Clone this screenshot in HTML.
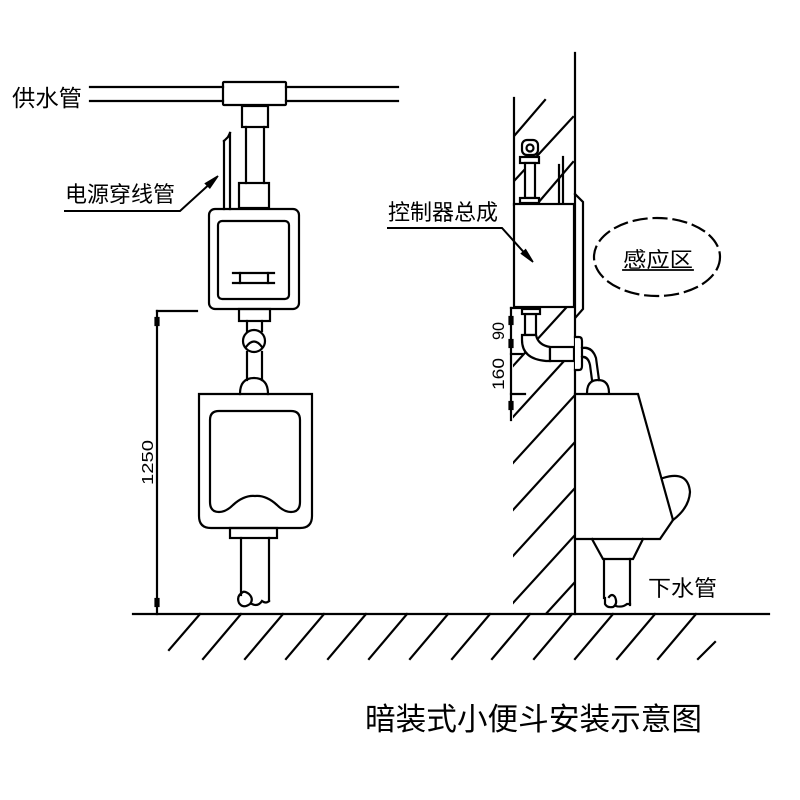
<!DOCTYPE html>
<html><head><meta charset="utf-8"><style>
html,body{margin:0;padding:0;background:#fff;}
svg{display:block;}
.t{font-family:"Liberation Sans","Noto Sans CJK SC",sans-serif;fill:#000;stroke:none;}
</style></head><body>
<svg width="800" height="800" viewBox="0 0 800 800" xmlns="http://www.w3.org/2000/svg">
<defs>
<clipPath id="lw"><rect x="513" y="308" width="62" height="306"/></clipPath>
</defs>
<g fill="none" stroke="#000" stroke-width="2.2" stroke-linecap="square">
<!-- supply pipe -->
<line x1="90" y1="87" x2="223" y2="87"/><line x1="90" y1="101" x2="223" y2="101"/>
<line x1="286" y1="87" x2="398" y2="87"/><line x1="286" y1="101" x2="398" y2="101"/>
<rect x="223" y="82" width="63" height="23" rx="1"/>
<rect x="242" y="106" width="26" height="21"/>
<line x1="246" y1="127" x2="246" y2="183"/><line x1="264" y1="127" x2="264" y2="183"/>
<rect x="239" y="183" width="30" height="25"/>
<!-- conduit -->
<line x1="224" y1="141" x2="224" y2="209"/><line x1="230" y1="133" x2="230" y2="209"/>
<polyline points="224,141 228,137 230,133"/>
<!-- controller front -->
<rect x="209" y="209" width="90" height="100" rx="6"/>
<rect x="218" y="221" width="71" height="78" rx="4"/>
<line x1="233" y1="273" x2="274" y2="273"/><line x1="233" y1="283" x2="274" y2="283"/>
<line x1="240" y1="273" x2="240" y2="283"/><line x1="268" y1="273" x2="268" y2="283"/>
<!-- label leader 电源穿线管 -->
<polyline points="65,211 180,211 214,180" stroke-width="2"/>
<polygon points="218,176 205.5,183.5 209.8,187.8" fill="#000" stroke-width="1.5" stroke-linejoin="miter"/>
<!-- lower assembly -->
<rect x="239" y="309" width="31" height="12"/>
<line x1="247" y1="321" x2="247" y2="331"/><line x1="262" y1="321" x2="262" y2="331"/>
<circle cx="254" cy="341" r="11"/>
<path d="M246,347 Q254,336 262,347"/>
<line x1="247" y1="352" x2="247" y2="380"/><line x1="262" y1="352" x2="262" y2="380"/>
<path d="M240,394 C240,382 246,378 254,378 C262,378 268,382 268,394"/>
<!-- urinal front -->
<path d="M199,394 L312,394 L312,516 Q312,528 300,528 L211,528 Q199,528 199,516 Z"/>
<path d="M210,420 Q210,411 219,411 L291,411 Q300,411 300,420 L300,502 Q300,512 291,512 Q284,512 277,505 Q266,495 255,496 Q244,495 233,505 Q226,512 219,512 Q210,512 210,502 Z"/>
<rect x="230" y="528" width="47" height="10"/>
<line x1="241" y1="538" x2="241" y2="595"/><line x1="269" y1="538" x2="269" y2="601"/>
<path d="M243,592 Q236,596 239,603 Q243,609 250,604 Q254,599 249,594 Q245,591 243,592 M252,604 Q258,607 262,601 Q266,604 269,601"/>
<!-- dimension 1250 -->
<line x1="157" y1="311" x2="197" y2="311"/>
<line x1="157" y1="311" x2="157" y2="614"/>
<rect x="155.5" y="318" width="3" height="7" fill="#000"/>
<rect x="155.5" y="599" width="3" height="7" fill="#000"/>
<!-- ground -->
<line x1="133" y1="614" x2="769" y2="614"/>
<line x1="200" y1="614" x2="169" y2="650"/>
<line x1="241" y1="614" x2="203" y2="659"/>
<line x1="283" y1="614" x2="245" y2="659"/>
<line x1="324" y1="614" x2="286" y2="659"/>
<line x1="366" y1="614" x2="328" y2="659"/>
<line x1="407" y1="614" x2="369" y2="659"/>
<line x1="448" y1="614" x2="410" y2="659"/>
<line x1="490" y1="614" x2="452" y2="659"/>
<line x1="530" y1="614" x2="492" y2="659"/>
<line x1="572" y1="614" x2="534" y2="659"/>
<line x1="613" y1="614" x2="575" y2="659"/>
<line x1="655" y1="614" x2="617" y2="659"/>
<line x1="696" y1="614" x2="658" y2="659"/>
<line x1="715" y1="642" x2="698" y2="659"/>
<!-- wall -->
<line x1="575" y1="53" x2="575" y2="614"/>
<line x1="514" y1="98" x2="514" y2="205"/>
<line x1="515" y1="135" x2="545" y2="100"/>
<line x1="515" y1="180" x2="573" y2="117"/>
<line x1="538" y1="203" x2="573" y2="162"/>
<g clip-path="url(#lw)">
<line x1="513" y1="366" x2="575" y2="298"/>
<line x1="513" y1="417" x2="575" y2="349"/>
<line x1="513" y1="463" x2="575" y2="395"/>
<line x1="513" y1="510" x2="575" y2="442"/>
<line x1="513" y1="556" x2="575" y2="488"/>
<line x1="513" y1="603" x2="575" y2="535"/>
<line x1="513" y1="650" x2="575" y2="582"/>
</g>
<!-- valve top -->
<g fill="#fff">
<rect x="522" y="140" width="16" height="15" rx="5"/>
<circle cx="530" cy="148" r="3.5"/>
<rect x="520" y="157" width="19" height="6"/>
<rect x="525" y="163" width="10" height="35"/>
<rect x="520" y="198" width="19" height="5"/>
</g>
<line x1="559" y1="165" x2="559" y2="204"/><line x1="563" y1="157" x2="563" y2="204"/>
<rect x="514" y="204" width="60" height="103" fill="#fff"/>
<polyline points="575,194 583,202 583,309 576,317"/>
<!-- label leader 控制器总成 -->
<polyline points="388,228 502,228 529,258" stroke-width="2"/>
<polygon points="533,262 525.6,249.8 521.5,253.6" fill="#000" stroke-width="1.5" stroke-linejoin="miter"/>
<!-- sensing zone -->
<ellipse cx="657" cy="257" rx="63" ry="39" stroke-dasharray="13 7"/>
<line x1="623" y1="270" x2="693" y2="270" stroke-width="1.8"/>
<!-- lower dimension -->
<line x1="511" y1="308" x2="511" y2="420"/>
<line x1="511" y1="308" x2="520" y2="308"/>
<line x1="511" y1="354" x2="522" y2="354"/>
<line x1="511" y1="394" x2="525" y2="394"/>
<rect x="509.5" y="317" width="3" height="7" fill="#000"/>
<rect x="509.5" y="340" width="3" height="7" fill="#000"/>
<rect x="509.5" y="402" width="3" height="7" fill="#000"/>
<!-- elbow -->
<g fill="#fff">
<rect x="525" y="314" width="11" height="21"/>
<rect x="522" y="309" width="18" height="5"/>
<path d="M522,335 L536,335 Q538,345 550,347 L550,361 L546,361 Q522,359 522,340 Z"/>
<rect x="550" y="347" width="24" height="14"/>
<path d="M575,337 L579,337 Q582,337 582,341 L582,366 Q582,370 579,370 L575,370"/>
</g>
<path d="M582,348 Q592,346 596,358 L599,380 M582,357 Q588,356 590,365 L592,380"/>
<path d="M587,393 C587,383 592,380 598,380 C604,380 609,383 609,393"/>
<!-- urinal side -->
<path d="M575,394 L638,394 L673,520 L660,539 L575,539"/>
<path d="M663,478 Q688,470 690,492 Q689,508 673,520"/>
<path d="M592,539 L603,559 L633,559 L643,539"/>
<line x1="604" y1="559" x2="604" y2="598"/><line x1="630" y1="559" x2="630" y2="605"/>
<path d="M605,598 L605,604 Q607,608 613,607 Q618,604 615,597 Q612,593 609,597 M616,606 Q622,608 627,604 L630,604"/>
</g>
<!-- texts -->
<text class="t" x="12" y="106" font-size="23" textLength="70" lengthAdjust="spacingAndGlyphs">供水管</text>
<text class="t" x="65" y="202" font-size="22" textLength="110" lengthAdjust="spacingAndGlyphs">电源穿线管</text>
<text class="t" x="388" y="220" font-size="22" textLength="110" lengthAdjust="spacingAndGlyphs">控制器总成</text>
<text class="t" x="623" y="267" font-size="21" textLength="70" lengthAdjust="spacingAndGlyphs">感应区</text>
<text class="t" x="648" y="596" font-size="22" textLength="69" lengthAdjust="spacingAndGlyphs">下水管</text>
<text class="t" x="365" y="730" font-size="31" textLength="337" lengthAdjust="spacingAndGlyphs">暗装式小便斗安装示意图</text>
<text class="t" font-size="16" textLength="45" lengthAdjust="spacingAndGlyphs" transform="translate(153,485) rotate(-90)">1250</text>
<text class="t" font-size="17" textLength="18" lengthAdjust="spacingAndGlyphs" transform="translate(504,340) rotate(-90)">90</text>
<text class="t" font-size="17" textLength="32" lengthAdjust="spacingAndGlyphs" transform="translate(504,390) rotate(-90)">160</text>
</svg>
</body></html>
